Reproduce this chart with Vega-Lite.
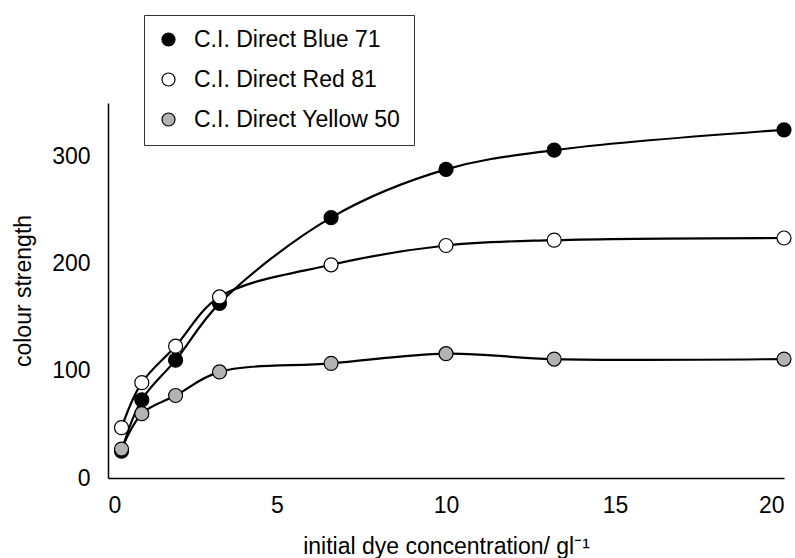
{
  "$schema": "https://vega.github.io/schema/vega-lite/v6.json",
  "width": 676,
  "height": 375,
  "autosize": "none",
  "padding": {"left": 108, "top": 103, "right": 11, "bottom": 80},
  "background": "white",
  "config": {
    "font": "Liberation Sans",
    "view": {"stroke": null},
    "axis": {"grid": false, "ticks": false, "domainColor": "black", "domainWidth": 1.5, "labelColor": "black", "titleColor": "black", "labelFont": "Liberation Sans", "titleFont": "Liberation Sans", "titleFontWeight": "normal"}
  },
  "data": {
    "values": [
      {"dye": "C.I. Direct Blue 71", "conc": 0.4, "strength": 25},
      {"dye": "C.I. Direct Blue 71", "conc": 1.0, "strength": 73},
      {"dye": "C.I. Direct Blue 71", "conc": 2.0, "strength": 110},
      {"dye": "C.I. Direct Blue 71", "conc": 3.3, "strength": 163},
      {"dye": "C.I. Direct Blue 71", "conc": 6.6, "strength": 243},
      {"dye": "C.I. Direct Blue 71", "conc": 10.0, "strength": 288},
      {"dye": "C.I. Direct Blue 71", "conc": 13.2, "strength": 306},
      {"dye": "C.I. Direct Blue 71", "conc": 20.0, "strength": 325},
      {"dye": "C.I. Direct Red 81", "conc": 0.4, "strength": 47},
      {"dye": "C.I. Direct Red 81", "conc": 1.0, "strength": 89},
      {"dye": "C.I. Direct Red 81", "conc": 2.0, "strength": 123},
      {"dye": "C.I. Direct Red 81", "conc": 3.3, "strength": 169},
      {"dye": "C.I. Direct Red 81", "conc": 6.6, "strength": 199},
      {"dye": "C.I. Direct Red 81", "conc": 10.0, "strength": 217},
      {"dye": "C.I. Direct Red 81", "conc": 13.2, "strength": 222},
      {"dye": "C.I. Direct Red 81", "conc": 20.0, "strength": 224},
      {"dye": "C.I. Direct Yellow 50", "conc": 0.4, "strength": 27},
      {"dye": "C.I. Direct Yellow 50", "conc": 1.0, "strength": 60},
      {"dye": "C.I. Direct Yellow 50", "conc": 2.0, "strength": 77},
      {"dye": "C.I. Direct Yellow 50", "conc": 3.3, "strength": 99},
      {"dye": "C.I. Direct Yellow 50", "conc": 6.6, "strength": 107},
      {"dye": "C.I. Direct Yellow 50", "conc": 10.0, "strength": 116},
      {"dye": "C.I. Direct Yellow 50", "conc": 13.2, "strength": 111},
      {"dye": "C.I. Direct Yellow 50", "conc": 20.0, "strength": 111}
    ]
  },
  "encoding": {
    "x": {
      "field": "conc", "type": "quantitative",
      "scale": {"domain": [0, 20], "nice": false, "zero": false},
      "axis": {"values": [0, 5, 10, 15, 20], "labelFontSize": 23, "labelPadding": 16, "title": "initial dye concentration/ gl⁻¹", "titleFontSize": 23, "titlePadding": 18}
    },
    "y": {
      "field": "strength", "type": "quantitative",
      "scale": {"domain": [0, 350], "nice": false},
      "axis": {"values": [0, 100, 200, 300], "labelFontSize": 23, "labelPadding": 18, "title": "colour strength", "titleFontSize": 23, "titlePadding": 16}
    }
  },
  "layer": [
    {
      "mark": {"type": "line", "interpolate": "catmull-rom", "color": "black", "strokeWidth": 2.2},
      "encoding": {"detail": {"field": "dye"}}
    },
    {
      "mark": {"type": "point", "shape": "circle", "filled": true, "stroke": "black", "strokeWidth": 1.2, "size": 196, "opacity": 1},
      "encoding": {
        "fill": {
          "field": "dye", "type": "nominal",
          "scale": {"domain": ["C.I. Direct Blue 71", "C.I. Direct Red 81", "C.I. Direct Yellow 50"], "range": ["black", "white", "#b3b3b3"]},
          "legend": {
            "title": null, "orient": "none", "legendX": 36, "legendY": -88,
            "labelFontSize": 23, "labelFont": "Liberation Sans", "labelColor": "black", "labelLimit": 400,
            "symbolType": "circle", "symbolSize": 169, "symbolStrokeColor": "black", "symbolStrokeWidth": 1.2,
            "rowPadding": 16, "padding": 13, "labelOffset": 14,
            "strokeColor": "#333", "fillColor": "white"
          }
        }
      }
    }
  ]
}
